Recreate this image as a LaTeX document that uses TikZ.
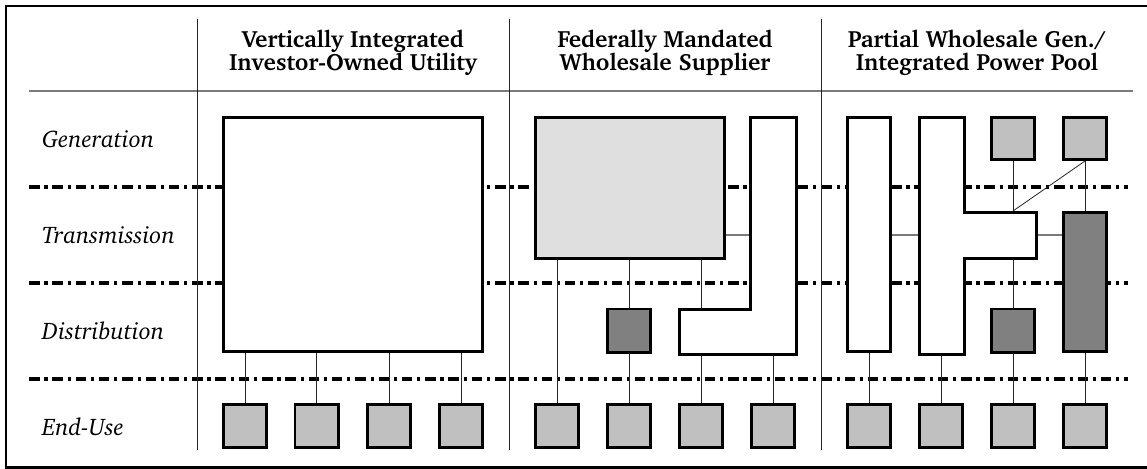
\documentclass[tikz,border=0pt]{standalone}
\usepackage[T1]{fontenc}
\usepackage{charter}
\definecolor{useFill}{HTML}{C0C0C0}
\definecolor{lightFill}{HTML}{DFDFDF}
\definecolor{darkFill}{HTML}{808080}
\definecolor{ruleGray}{HTML}{7A7A7A}
\begin{document}
\begin{tikzpicture}[x=1pt,y=-1pt,
  frame/.style={line width=2.7pt},
  layer/.style={line width=3.1pt, dash pattern=on 10.5pt off 4.8pt on 3.2pt off 4.8pt},
  divider/.style={line width=0.9pt, draw=black!85},
  headrule/.style={line width=1.3pt, draw=ruleGray},
  block/.style={draw, line width=2.7pt, inner sep=0pt, fill=white},
  sq/.style={block, minimum width=43.3pt, minimum height=43.3pt},
  enduse/.style={sq, fill=useFill},
  genbox/.style={sq, fill=useFill, minimum height=42.3pt},
  distbox/.style={sq, fill=darkFill},
  link/.style={line width=0.8pt, draw=black!85},
  tie/.style={line width=1.3pt, draw=ruleGray},
  head/.style={align=center, inner sep=0pt, anchor=north,
    font=\fontsize{23.5}{23}\selectfont\bfseries},
  rowlabel/.style={anchor=base west, inner sep=0pt,
    font=\fontsize{24}{26}\selectfont\itshape}
]
\useasboundingbox (0,0) rectangle (1147,468);
\begin{scope}
  \clip (0,0) rectangle (1147,468);
  \draw[frame] (6,6) rectangle (1153,467.6);
\end{scope}

% layer boundaries
\draw[layer] (29,187) -- (1128,187);
\draw[layer] (29,283) -- (1128,283);
\draw[layer] (29,379) -- (1128,379);

% header rule and column dividers
\draw[headrule] (29,91) -- (1133,91);
\draw[divider] (197,19) -- (197,450);
\draw[divider] (509,19) -- (509,450);
\draw[divider] (821,19) -- (821,450);

% column headings
\node[head] (h1) at (353,29.2) {Vertically Integrated\\Investor-Owned Utility};
\node[head] (h2) at (665,29.2) {Federally Mandated\\Wholesale Supplier};
\node[head] (h3) at (977,29.2) {Partial Wholesale Gen./\\Integrated Power Pool};

% row labels
\node[rowlabel] (rGen) at (42,147) {Generation};
\node[rowlabel] (rTra) at (42,243) {Transmission};
\node[rowlabel] (rDis) at (42,339) {Distribution};
\node[rowlabel] (rEnd) at (42,435) {End-Use};

% ---- vertically integrated utility
\node[block, minimum width=259.3pt, minimum height=234.3pt] (vi) at (353,234.5) {};
\node[enduse] (e11) at (245,426) {};
\node[enduse] (e12) at (316.5,426) {};
\node[enduse] (e13) at (389,426) {};
\node[enduse] (e14) at (461,426) {};
\foreach \e in {e11,e12,e13,e14}
  \draw[link] (vi.south -| \e.north) -- (\e.north);

% ---- federally mandated wholesale supplier
\node[block, fill=lightFill, minimum width=189.3pt, minimum height=141.3pt] (fm) at (630,188) {};
\draw[block] (750.3,117.3) -- (796.7,117.3) -- (796.7,354.7) -- (679.3,354.7)
  -- (679.3,309.3) -- (750.3,309.3) -- cycle;
\coordinate (Ltop) at (701,308);
\coordinate (Lbot) at (701,356);
\coordinate (Lleft) at (749,235);
\node[distbox] (d2) at (629,330.5) {};
\node[enduse] (e21) at (557,426) {};
\node[enduse] (e22) at (629,426) {};
\node[enduse] (e23) at (701,426) {};
\node[enduse] (e24) at (773,426) {};
\draw[tie] (Lleft -| fm.east) -- (Lleft);
\draw[link] (fm.south -| e21.north) -- (e21.north);
\draw[link] (fm.south -| d2.north) -- (d2.north);
\draw[link] (d2.south) -- (e22.north);
\draw[link] (fm.south -| Ltop) -- (Ltop);
\draw[link] (Lbot -| e23.north) -- (e23.north);
\draw[link] (Lbot -| e24.north) -- (e24.north);

% ---- partial wholesale generation / integrated power pool
\node[block, minimum width=43.3pt, minimum height=234.3pt] (p1) at (869,234.5) {};
\draw[block] (919.3,117.3) -- (964.7,117.3) -- (964.7,212.3) -- (1036.7,212.3)
  -- (1036.7,258.7) -- (964.7,258.7) -- (964.7,354.7) -- (919.3,354.7) -- cycle;
\coordinate (Ttop) at (1013,211);
\coordinate (Tbot) at (1013,260);
\coordinate (Tleft) at (918,235);
\coordinate (Tright) at (1038,235);
\coordinate (Tfoot) at (941,356);
\node[block, fill=darkFill, minimum width=43.3pt, minimum height=139.3pt] (p3) at (1085,282) {};
\node[genbox] (g1) at (1013,138.5) {};
\node[genbox] (g2) at (1085,138.5) {};
\node[distbox] (d3) at (1013,330.5) {};
\node[enduse] (e31) at (869,426) {};
\node[enduse] (e32) at (941,426) {};
\node[enduse] (e33) at (1013,426) {};
\node[enduse] (e34) at (1085,426) {};
\draw[tie] (Tleft -| p1.east) -- (Tleft);
\draw[tie] (Tright) -- (Tright -| p3.west);
\draw[link] (g1.south) -- (Ttop);
\draw[link] (g2.south) -- (p3.north);
\draw[link] (g2.south) -- (Ttop);
\draw[link] (Tbot) -- (d3.north);
\draw[link] (d3.south) -- (e33.north);
\draw[link] (p1.south) -- (e31.north);
\draw[link] (Tfoot) -- (e32.north);
\draw[link] (p3.south) -- (e34.north);
\end{tikzpicture}
\end{document}
